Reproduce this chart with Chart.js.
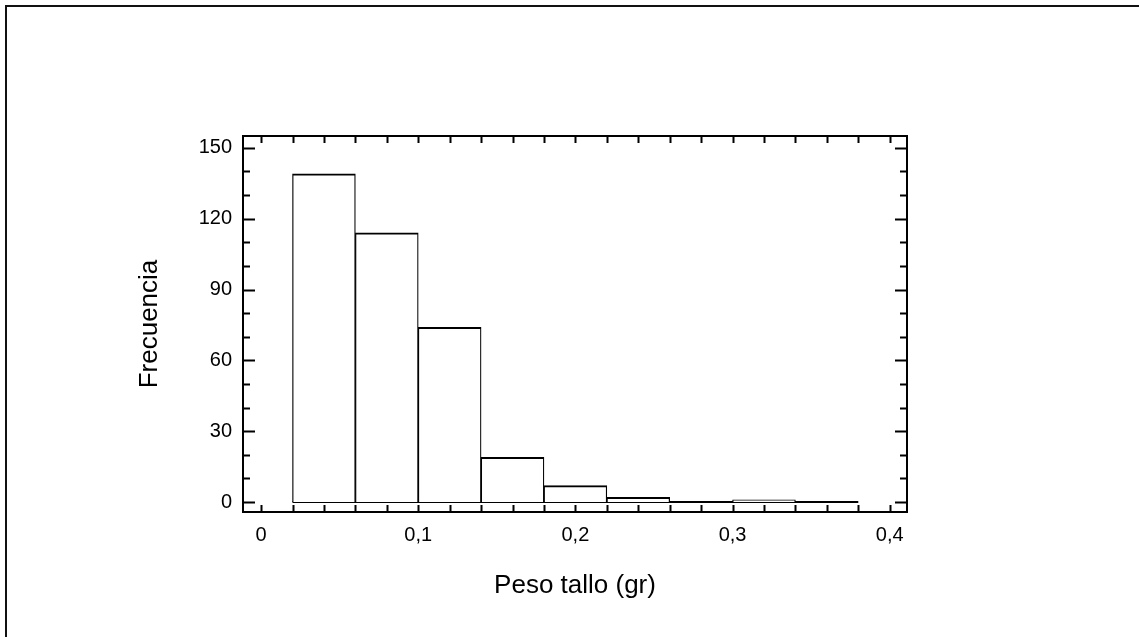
<!DOCTYPE html>
<html>
<head>
<meta charset="utf-8">
<script src="https://cdn.jsdelivr.net/npm/chart.js@4/dist/chart.umd.min.js"></script>
<style>
  html, body { margin: 0; padding: 0; background: #fff; overflow: hidden; }
  #wrap { position: relative; width: 1139px; height: 637px; overflow: hidden; }
  #frame {
    position: absolute; left: 5px; top: 5px; width: 1134px; height: 632px;
    border-left: 2px solid #111; border-top: 2px solid #111;
  }
  #chart { position: absolute; left: 0; top: 0; }
</style>
</head>
<body>
<div id="wrap">
  <div id="frame"></div>
  <canvas id="chart" width="1139" height="637"></canvas>
</div>
<script>
// histogram bins (gr) and counts
const binEdges = [0.02, 0.06, 0.10, 0.14, 0.18, 0.22, 0.26, 0.30, 0.34, 0.38];
const binCenters = [0.04, 0.08, 0.12, 0.16, 0.20, 0.24, 0.28, 0.32, 0.36];
const frequencies = [139, 114, 74, 19, 7, 2, 0, 1, 0];

const xTickValues = [0, 0.1, 0.2, 0.3, 0.4];
const yTickValues = [0, 30, 60, 90, 120, 150];

const font = "'Liberation Sans', Arial, sans-serif";

// inward ticks on all four sides plus the box
const frameTicks = {
  id: "frameTicks",
  afterDraw(chart) {
    const { ctx, chartArea: { left, right, top, bottom }, scales: { x, y } } = chart;
    ctx.save();
    ctx.strokeStyle = "#000";
    ctx.lineWidth = 2;
    ctx.strokeRect(left, top, right - left, bottom - top);
    ctx.beginPath();
    for (let k = 0; k <= 20; k++) {
      const px = Math.round(x.getPixelForValue(k * 0.02)) + 0.5;
      ctx.moveTo(px, bottom); ctx.lineTo(px, bottom - 7);
      ctx.moveTo(px, top); ctx.lineTo(px, top + 7);
    }
    for (let k = 0; k <= 15; k++) {
      const py = Math.round(y.getPixelForValue(k * 10)) + 0.5;
      const len = (k % 3 === 0) ? 12 : 7;
      ctx.moveTo(left, py); ctx.lineTo(left + len, py);
      ctx.moveTo(right, py); ctx.lineTo(right - len, py);
    }
    ctx.stroke();
    ctx.restore();
  }
};

const fmt = (v) => v === 0 ? "0" : v.toFixed(1).replace(".", ",");

new Chart(document.getElementById("chart"), {
  type: "bar",
  data: {
    datasets: [{
      data: binCenters.map((c, i) => ({ x: c, y: frequencies[i] })),
      backgroundColor: "#fff",
      borderColor: "#000",
      borderWidth: { top: 2, left: 1.25, right: 1.25, bottom: 0 },
      borderSkipped: false,
      barPercentage: 1,
      categoryPercentage: 1
    }, {
      type: "line",
      data: [{ x: binEdges[0], y: 0 }, { x: binEdges[binEdges.length - 1], y: 0 }],
      borderColor: "#000",
      borderWidth: 2,
      pointRadius: 0,
      fill: false
    }]
  },
  options: {
    responsive: false,
    animation: false,
    events: [],
    layout: { padding: { left: 0, top: 136, right: 232, bottom: 0 } },
    plugins: { legend: { display: false }, tooltip: { enabled: false } },
    scales: {
      x: {
        type: "linear",
        min: -0.0115,
        max: 0.411,
        offset: false,
        grid: { display: false, drawTicks: false },
        border: { display: false },
        afterBuildTicks: (s) => { s.ticks = xTickValues.map(v => ({ value: v })); },
        afterFit: (s) => { s.height = 125; },
        ticks: {
          color: "#000",
          padding: 11,
          maxRotation: 0,
          font: { family: font, size: 20 },
          callback: (v) => fmt(v)
        },
        title: {
          display: true,
          text: "Peso tallo (gr)",
          color: "#000",
          font: { family: font, size: 26 },
          padding: { top: 0, bottom: 36 }
        }
      },
      y: {
        min: -4.2,
        max: 155,
        grid: { display: false, drawTicks: false },
        border: { display: false },
        afterBuildTicks: (s) => { s.ticks = yTickValues.map(v => ({ value: v })); },
        afterFit: (s) => { s.width = 243; },
        ticks: {
          color: "#000",
          padding: 11,
          font: { family: font, size: 20 }
        },
        title: {
          display: true,
          text: "Frecuencia",
          color: "#000",
          font: { family: font, size: 26 },
          padding: { top: 134, bottom: 0 }
        }
      }
    }
  },
  plugins: [frameTicks]
});
</script>
</body>
</html>
